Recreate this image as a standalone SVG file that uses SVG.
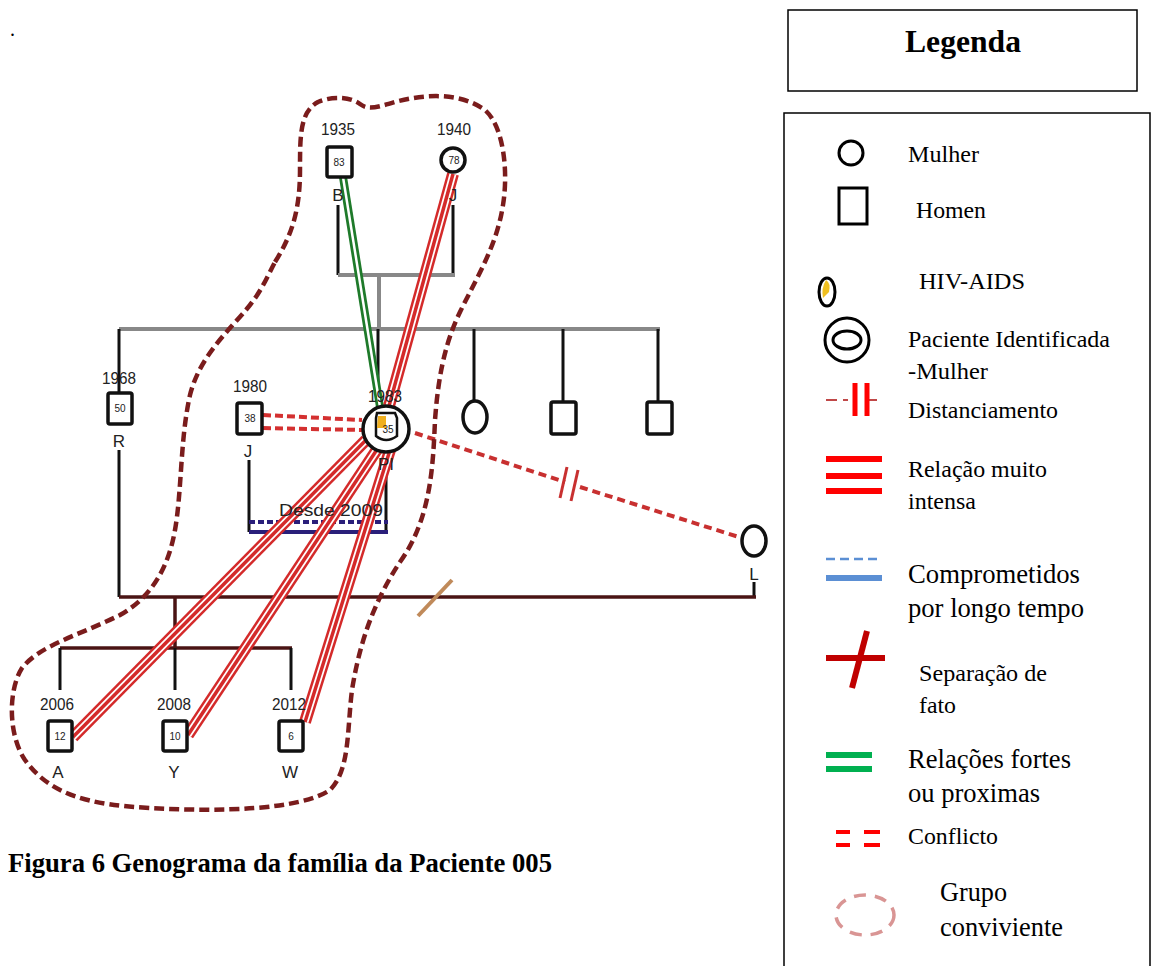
<svg xmlns="http://www.w3.org/2000/svg" width="1157" height="966" viewBox="0 0 1157 966">
<style>
.t{font-family:"Liberation Sans",Arial,sans-serif;font-size:17px;fill:#222;text-anchor:middle}
.n{font-family:"Liberation Sans",Arial,sans-serif;font-size:10px;fill:#222;text-anchor:middle}
.lg{font-family:"Liberation Serif","Times New Roman",serif;fill:#000}
.s{font-size:22.5px}
.b{font-size:26.5px}
.nd{fill:#fff;stroke:#111;stroke-width:3.5}
.k{stroke:#111;stroke-width:3;fill:none}
.g{stroke:#888;stroke-width:4;fill:none}
.dk{stroke:#4a1414;stroke-width:3.5;fill:none}
.rr{stroke:#d42a2a;stroke-width:12;fill:none}
.rw{stroke:#fff;stroke-width:7;fill:none}
.rc{stroke:#d42a2a;stroke-width:3.5;fill:none}
.cf{stroke:#d43030;stroke-width:4;stroke-dasharray:8 4;fill:none}
</style>
<text x="10" y="36" class="lg" font-size="20">.</text>

<g id="connectors">
  <line x1="338" y1="205" x2="338" y2="275" class="k"/>
  <line x1="453" y1="205" x2="453" y2="275" class="k"/>
  <line x1="338" y1="275" x2="455" y2="275" class="g"/>
  <line x1="379" y1="275" x2="379" y2="329" class="g"/>
  <line x1="119" y1="329" x2="660" y2="329" class="g"/>
  <line x1="119" y1="329" x2="119" y2="392" class="k"/>
  <line x1="378" y1="329" x2="378" y2="405" class="k"/>
  <line x1="474" y1="329" x2="474" y2="400" class="k"/>
  <line x1="563" y1="329" x2="563" y2="401" class="k"/>
  <line x1="658" y1="329" x2="658" y2="401" class="k"/>
  <line x1="119" y1="450" x2="119" y2="597" class="k"/>
  <line x1="754" y1="582" x2="754" y2="597" class="k"/>
  <line x1="119" y1="597" x2="756" y2="597" class="dk"/>
  <line x1="418" y1="616" x2="452" y2="580" stroke="#c08a5a" stroke-width="4"/>
  <line x1="175" y1="597" x2="175" y2="648" class="dk"/>
  <line x1="60" y1="648" x2="292" y2="648" class="dk"/>
  <line x1="60" y1="648" x2="60" y2="690" class="k"/>
  <line x1="175" y1="648" x2="175" y2="690" class="k"/>
  <line x1="291" y1="648" x2="291" y2="690" class="k"/>
  <line x1="249" y1="460" x2="249" y2="532" class="k"/>
  <line x1="386" y1="474" x2="386" y2="532" class="k"/>
  <line x1="249" y1="532" x2="388" y2="532" stroke="#2a1f7a" stroke-width="4"/>
  <line x1="249" y1="522" x2="388" y2="522" stroke="#2a1f7a" stroke-width="4" stroke-dasharray="6 3"/>
  <line x1="343" y1="177" x2="380" y2="407" stroke="#1e7a2a" stroke-width="8"/>
  <line x1="343" y1="177" x2="380" y2="407" stroke="#fff" stroke-width="2.5"/>
  <g>
    <line x1="453" y1="174" x2="389" y2="406" class="rr"/>
    <line x1="453" y1="174" x2="389" y2="406" class="rw"/>
    <line x1="453" y1="174" x2="389" y2="406" class="rc"/>
  </g>
  <g>
    <line x1="366" y1="440" x2="73" y2="737" class="rr"/>
    <line x1="366" y1="440" x2="73" y2="737" class="rw"/>
    <line x1="366" y1="440" x2="73" y2="737" class="rc"/>
    <line x1="378" y1="448" x2="188" y2="735" class="rr"/>
    <line x1="378" y1="448" x2="188" y2="735" class="rw"/>
    <line x1="378" y1="448" x2="188" y2="735" class="rc"/>
    <line x1="390" y1="450" x2="305" y2="722" class="rr"/>
    <line x1="390" y1="450" x2="305" y2="722" class="rw"/>
    <line x1="390" y1="450" x2="305" y2="722" class="rc"/>
  </g>
  <line x1="263" y1="415" x2="362" y2="420" class="cf"/>
  <line x1="263" y1="428" x2="362" y2="430" class="cf"/>
  <line x1="415" y1="433" x2="565" y2="482" stroke="#c83030" stroke-width="4" stroke-dasharray="8 5"/>
  <line x1="580" y1="487" x2="742" y2="538" stroke="#c83030" stroke-width="4" stroke-dasharray="8 5"/>
  <line x1="567" y1="467" x2="560" y2="498" stroke="#c83030" stroke-width="3"/>
  <line x1="578" y1="470" x2="571" y2="501" stroke="#c83030" stroke-width="3"/>
  <path d="M275,262 C292,235 300,210 300,170 C300,135 300,112 318,102 C335,95 352,98 360,104 C368,110 375,108 395,102 C425,94 460,92 485,110 C505,128 508,175 503,205 C497,245 478,275 460,312 C444,345 438,380 435,420 C433,470 430,520 400,562 C375,600 360,640 352,690 C347,730 350,770 330,790 C300,810 220,812 150,808 C90,805 50,795 25,760 C8,735 8,690 22,668 C40,645 80,635 120,615 C150,598 168,570 175,530 C182,490 180,440 190,395 C200,355 230,330 250,305 C262,290 268,275 275,262 Z" fill="none" stroke="#7a1c1c" stroke-width="4.5" stroke-dasharray="10 5"/>
</g>

<g id="n-b">
  <text x="338" y="135" class="t" textLength="34" lengthAdjust="spacingAndGlyphs">1935</text>
  <rect x="327" y="147" width="25" height="30" rx="2" class="nd"/>
  <text x="339" y="166" class="n">83</text>
  <text x="338" y="201" class="t">B</text>
</g>
<g id="n-j1">
  <text x="454" y="135" class="t" textLength="34" lengthAdjust="spacingAndGlyphs">1940</text>
  <circle cx="453" cy="160" r="12" class="nd"/>
  <text x="454" y="164" class="n">78</text>
  <text x="453" y="201" class="t">J</text>
</g>
<g id="n-r">
  <text x="119" y="384" class="t" textLength="34" lengthAdjust="spacingAndGlyphs">1968</text>
  <rect x="108" y="393" width="24" height="31" rx="2" class="nd"/>
  <text x="120" y="412" class="n">50</text>
  <text x="119" y="447" class="t">R</text>
</g>
<g id="n-j2">
  <text x="250" y="392" class="t" textLength="34" lengthAdjust="spacingAndGlyphs">1980</text>
  <rect x="237" y="403" width="25" height="31" rx="2" class="nd"/>
  <text x="250" y="422" class="n">38</text>
  <text x="248" y="457" class="t">J</text>
</g>
<g id="n-pi">
  <text x="385" y="402" class="t" textLength="34" lengthAdjust="spacingAndGlyphs">1983</text>
  <circle cx="386" cy="429" r="23" fill="#fff" stroke="#111" stroke-width="3.5"/>
  <path d="M377,413 L395,413 L397,418 L397,436 Q386,444 376,436 L376,418 Z" fill="#fff" stroke="#111" stroke-width="2.5"/>
  <path d="M378,416 L386,416 L386,428 L377,428 Z" fill="#f0b020"/>
  <text x="388" y="433" class="n">35</text>
  <text x="386" y="470" class="t">PI</text>
</g>
<g id="n-s1"><ellipse cx="475" cy="417" rx="12" ry="16" class="nd"/></g>
<g id="n-s2"><rect x="551" y="402" width="25" height="32" rx="2" class="nd"/></g>
<g id="n-s3"><rect x="647" y="402" width="25" height="32" rx="2" class="nd"/></g>
<g id="n-l">
  <ellipse cx="754" cy="541" rx="12" ry="15" class="nd"/>
  <text x="754" y="580" class="t" font-size="13">L</text>
</g>
<g id="n-a">
  <text x="57" y="710" class="t" textLength="34" lengthAdjust="spacingAndGlyphs">2006</text>
  <rect x="48" y="721" width="24" height="30" rx="2" class="nd"/>
  <text x="60" y="740" class="n">12</text>
  <text x="58" y="778" class="t">A</text>
</g>
<g id="n-y">
  <text x="174" y="710" class="t" textLength="34" lengthAdjust="spacingAndGlyphs">2008</text>
  <rect x="163" y="721" width="24" height="30" rx="2" class="nd"/>
  <text x="175" y="740" class="n">10</text>
  <text x="174" y="778" class="t">Y</text>
</g>
<g id="n-w">
  <text x="289" y="710" class="t" textLength="34" lengthAdjust="spacingAndGlyphs">2012</text>
  <rect x="279" y="721" width="24" height="30" rx="2" class="nd"/>
  <text x="291" y="740" class="n">6</text>
  <text x="290" y="778" class="t">W</text>
</g>
<g id="desde">
  <text x="331" y="516" class="t" fill="#333" font-size="17" textLength="104" lengthAdjust="spacingAndGlyphs">Desde 2009</text>
</g>

<text x="8" y="872" class="lg" font-size="26.5" font-weight="bold" textLength="544" lengthAdjust="spacingAndGlyphs">Figura 6 Genograma da família da Paciente 005</text>

<g id="legend">
  <rect x="788" y="10" width="349" height="81" fill="#fff" stroke="#000" stroke-width="1.5"/>
  <text x="905" y="52" class="lg" font-size="31" font-weight="bold" textLength="116" lengthAdjust="spacingAndGlyphs">Legenda</text>
  <rect x="784" y="113" width="366" height="860" fill="none" stroke="#000" stroke-width="1.5"/>

  <circle cx="851" cy="153" r="12" fill="none" stroke="#000" stroke-width="3"/>
  <text x="908" y="162" class="lg s" textLength="71" lengthAdjust="spacingAndGlyphs">Mulher</text>

  <rect x="839" y="188" width="28" height="36" fill="none" stroke="#000" stroke-width="3"/>
  <text x="916" y="218" class="lg s" textLength="70" lengthAdjust="spacingAndGlyphs">Homen</text>

  <ellipse cx="827" cy="292" rx="8" ry="14" fill="none" stroke="#000" stroke-width="3"/>
  <path d="M826,280 Q831,283 829,292 L823,298 Q821,288 826,280 Z" fill="#f0c020"/>
  <text x="919" y="289" class="lg s" textLength="106" lengthAdjust="spacingAndGlyphs">HIV-AIDS</text>

  <circle cx="847" cy="340" r="22" fill="none" stroke="#000" stroke-width="3"/>
  <ellipse cx="847" cy="340" rx="14" ry="9" fill="none" stroke="#000" stroke-width="3"/>
  <text x="908" y="347" class="lg s" textLength="202" lengthAdjust="spacingAndGlyphs">Paciente Identificada</text>
  <text x="908" y="379" class="lg s" textLength="80" lengthAdjust="spacingAndGlyphs">-Mulher</text>

  <line x1="826" y1="400" x2="837" y2="400" stroke="#c04848" stroke-width="2"/>
  <line x1="843" y1="400" x2="848" y2="400" stroke="#c04848" stroke-width="2"/>
  <line x1="866" y1="400" x2="877" y2="400" stroke="#c04848" stroke-width="2"/>
  <line x1="855" y1="383" x2="855" y2="416" stroke="#f00" stroke-width="5"/>
  <line x1="867" y1="383" x2="867" y2="416" stroke="#f00" stroke-width="5"/>
  <text x="908" y="418" class="lg s" textLength="150" lengthAdjust="spacingAndGlyphs">Distanciamento</text>

  <line x1="826" y1="459" x2="882" y2="459" stroke="#f00" stroke-width="6"/>
  <line x1="826" y1="476" x2="882" y2="476" stroke="#f00" stroke-width="6"/>
  <line x1="826" y1="491" x2="882" y2="491" stroke="#f00" stroke-width="6"/>
  <text x="908" y="477" class="lg s" textLength="139" lengthAdjust="spacingAndGlyphs">Relação muito</text>
  <text x="908" y="509" class="lg s" textLength="68" lengthAdjust="spacingAndGlyphs">intensa</text>

  <line x1="826" y1="559" x2="882" y2="559" stroke="#5b8fd4" stroke-width="2.5" stroke-dasharray="9 5"/>
  <line x1="826" y1="578" x2="882" y2="578" stroke="#5b8fd4" stroke-width="6"/>
  <text x="908" y="583" class="lg b" textLength="172" lengthAdjust="spacingAndGlyphs">Comprometidos</text>
  <text x="908" y="617" class="lg b" textLength="176" lengthAdjust="spacingAndGlyphs">por longo tempo</text>

  <line x1="826" y1="658" x2="885" y2="658" stroke="#c00000" stroke-width="6"/>
  <line x1="867" y1="631" x2="852" y2="688" stroke="#c00000" stroke-width="6"/>
  <text x="919" y="681" class="lg s" textLength="128" lengthAdjust="spacingAndGlyphs">Separação de</text>
  <text x="919" y="713" class="lg s" textLength="37" lengthAdjust="spacingAndGlyphs">fato</text>

  <line x1="826" y1="755" x2="872" y2="755" stroke="#00b050" stroke-width="6"/>
  <line x1="826" y1="769" x2="872" y2="769" stroke="#00b050" stroke-width="6"/>
  <text x="908" y="768" class="lg b" textLength="163" lengthAdjust="spacingAndGlyphs">Relações fortes</text>
  <text x="908" y="802" class="lg b" textLength="132" lengthAdjust="spacingAndGlyphs">ou proximas</text>

  <line x1="836" y1="832" x2="850" y2="832" stroke="#f00" stroke-width="4"/>
  <line x1="864" y1="832" x2="880" y2="832" stroke="#f00" stroke-width="4"/>
  <line x1="836" y1="845" x2="850" y2="845" stroke="#f00" stroke-width="4"/>
  <line x1="864" y1="845" x2="880" y2="845" stroke="#f00" stroke-width="4"/>
  <text x="908" y="844" class="lg s" textLength="90" lengthAdjust="spacingAndGlyphs">Conflicto</text>

  <ellipse cx="865" cy="915" rx="29" ry="20" fill="none" stroke="#d99594" stroke-width="3.5" stroke-dasharray="12 9"/>
  <text x="940" y="901" class="lg b" textLength="67" lengthAdjust="spacingAndGlyphs">Grupo</text>
  <text x="940" y="936" class="lg b" textLength="123" lengthAdjust="spacingAndGlyphs">conviviente</text>
</g>
</svg>
